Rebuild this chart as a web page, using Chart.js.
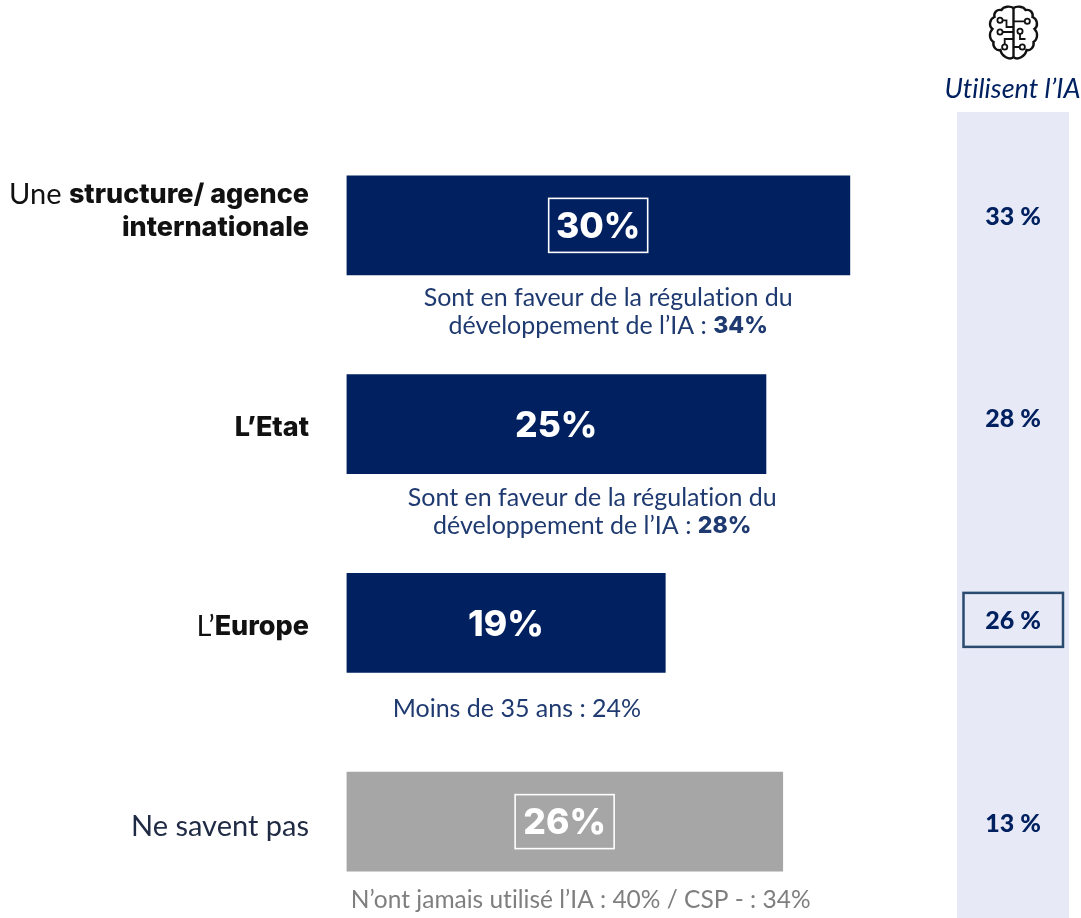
<!DOCTYPE html>
<html>
<head>
<meta charset="utf-8">
<title>Régulation de l'IA</title>
<script src="https://cdn.jsdelivr.net/npm/chart.js@4"></script>
<style>
html, body { margin: 0; padding: 0; background: #fff; overflow: hidden; width: 1081px; height: 918px; }
canvas { display: block; }
</style>
</head>
<body>
<canvas id="myChart" width="1081" height="923"></canvas>
<script>
var categories = ["structure", "etat", "europe", "nsp"];
var values = [30, 25, 19, 26];
var usersValues = [33, 28, 26, 13];
var boxedValues = [true, false, false, true];
var boxedUsers = [false, false, true, false];
var barColors = ["#002060", "#002060", "#002060", "#a6a6a6"];
var usersTitle = "Utilisent l’IA";

// each line is a list of [text, bold]
var categoryLines = [
    [[["Une ", false], ["structure/ agence", true]], [["internationale", true]]],
    [[["L’Etat", true]]],
    [[["L’", false], ["Europe", true]]],
    [[["Ne savent pas", false]]]
];
var noteLines = [
    [[["Sont en faveur de la régulation du", false]], [["développement de l’IA : ", false], ["34%", true]]],
    [[["Sont en faveur de la régulation du", false]], [["développement de l’IA : ", false], ["28%", true]]],
    [[["Moins de 35 ans : 24%", false]]],
    [[["N’ont jamais utilisé l’IA : 40% / CSP - : 34%", false]]]
];

// offsets of the texts from the centre of their bar, in pixels
var labelOffset = [-31, 3.5, 3.5, 5];
var noteOffset = [72.5, 74, 86, 78.5];
var noteShift = [10, 36, 11, 16];
var noteSize = [25, 25, 25, 24.5];
var usersOffset = [-8, -5, -2, 2];

var NAVY = "#002060";

function setRunFont(ctx, bold, size, boldSize) {
    ctx.font = bold ? "800 " + boldSize + "px Inter" : "400 " + size + "px Lato";
}

function textRuns(ctx, line, x, y, align, size, boldSize, color) {
    var total = 0;
    line.forEach(function (run) {
        setRunFont(ctx, run[1], size, boldSize);
        total += ctx.measureText(run[0]).width;
    });
    var cx = align === "right" ? x - total : x - total / 2;
    ctx.textAlign = "left";
    ctx.textBaseline = "middle";
    ctx.fillStyle = color;
    line.forEach(function (run) {
        setRunFont(ctx, run[1], size, boldSize);
        ctx.fillText(run[0], cx, y);
        cx += ctx.measureText(run[0]).width;
    });
}

function drawBrain(ctx, cx, cy) {
    ctx.save();
    ctx.translate(cx, cy);
    ctx.strokeStyle = "#111";
    ctx.fillStyle = "#fff";
    ctx.lineWidth = 2.4;
    var half = new Path2D("M0,-25 C-3,-27 -10,-27 -12,-23 C-17,-24 -20,-20 -19,-16 C-24,-14 -25,-7 -21,-4 C-25,0 -24,7 -20,9 C-21,14 -17,18 -13,17 C-12,23 -4,28 0,24");
    ctx.stroke(half);
    ctx.scale(-1, 1);
    ctx.stroke(half);
    ctx.scale(-1, 1);
    ctx.stroke(new Path2D("M0,-25 L0,24"));
    ctx.lineWidth = 1.8;
    ctx.stroke(new Path2D("M-11,-12.7 L-7,-12.7 L-7,-6 L0,-6 M-11,-1 L0,-1 M-8.8,11 L-8.8,6 L0,6 M11,-11.7 L0,-11.7 M6.5,1 L6.5,6 L12,6 M6,14 L0,14"));
    [[-13.5, -12.7], [-13.5, -1], [-8.8, 14], [13.8, -11.7], [6.5, -1.7], [8.8, 14]].forEach(function (p) {
        ctx.beginPath();
        ctx.arc(p[0], p[1], 2.6, 0, Math.PI * 2);
        ctx.fill();
        ctx.stroke();
    });
    ctx.restore();
}

var panelPlugin = {
    id: "panel",
    beforeDatasetsDraw: function (chart) {
        var ctx = chart.ctx;
        ctx.save();
        ctx.fillStyle = "#e7eaf6";
        ctx.fillRect(957, 112, 112, 811);
        ctx.restore();
    },
    afterDatasetsDraw: function (chart) {
        var ctx = chart.ctx;
        var xs = chart.scales.x;
        var ys = chart.scales.y;
        ctx.save();
        // no "ti" ligature from Lato
        ctx.textRendering = "optimizeSpeed";

        categories.forEach(function (c, i) {
            var yc = ys.getPixelForValue(i);

            // left labels
            categoryLines[i].forEach(function (line, k) {
                textRuns(ctx, line, 309, yc + labelOffset[i] + k * 33, "right", 29, 27, i === 3 ? "#1f2a44" : "#111");
            });

            // value in the bar
            var xc = xs.getPixelForValue(values[i] / 2);
            ctx.font = "800 35.5px Inter";
            ctx.textAlign = "center";
            ctx.textBaseline = "middle";
            ctx.fillStyle = "#fff";
            ctx.fillText(values[i] + "%", xc, yc + 2);
            if (boxedValues[i]) {
                ctx.strokeStyle = "#fff";
                ctx.lineWidth = 1.6;
                ctx.strokeRect(xc - 49.5, yc - 27, 99, 54);
            }

            // note under the bar
            noteLines[i].forEach(function (line, k) {
                textRuns(ctx, line, xc + noteShift[i], yc + noteOffset[i] + k * 28, "center", noteSize[i], 23, i === 3 ? "#7f7f7f" : "#1f3a70");
            });

            // users column
            ctx.font = "900 25px Lato";
            ctx.textAlign = "center";
            ctx.textBaseline = "middle";
            ctx.fillStyle = NAVY;
            ctx.fillText(usersValues[i] + " %", 1013, yc + usersOffset[i]);
            if (boxedUsers[i]) {
                ctx.strokeStyle = "#2a4a70";
                ctx.lineWidth = 2.5;
                ctx.strokeRect(963.5, yc - 30, 99.5, 54);
            }
        });

        ctx.font = "italic 400 27px Lato";
        ctx.textAlign = "center";
        ctx.textBaseline = "middle";
        ctx.fillStyle = NAVY;
        ctx.fillText(usersTitle, 1012.5, 89);
        drawBrain(ctx, 1013.5, 33);
        ctx.restore();
    }
};

var ctx = document.getElementById("myChart");
Promise.all([
    document.fonts.load("900 25px Lato"),
    document.fonts.load("400 25px Lato"),
    document.fonts.load("italic 400 27px Lato"),
    document.fonts.load("800 37px Inter")
]).then(function () {
    new Chart(ctx, {
        type: "bar",
        data: {
            labels: categories,
            datasets: [{
                data: values,
                backgroundColor: barColors,
                barThickness: 99
            }]
        },
        options: {
            indexAxis: "y",
            responsive: false,
            animation: false,
            layout: { padding: { left: 346.5, right: 13, top: 126, bottom: 2 } },
            plugins: { legend: { display: false }, tooltip: { enabled: false } },
            scales: {
                x: { display: false, min: 0, max: 43 },
                y: { display: false }
            }
        },
        plugins: [panelPlugin]
    });
});
</script>
</body>
</html>
